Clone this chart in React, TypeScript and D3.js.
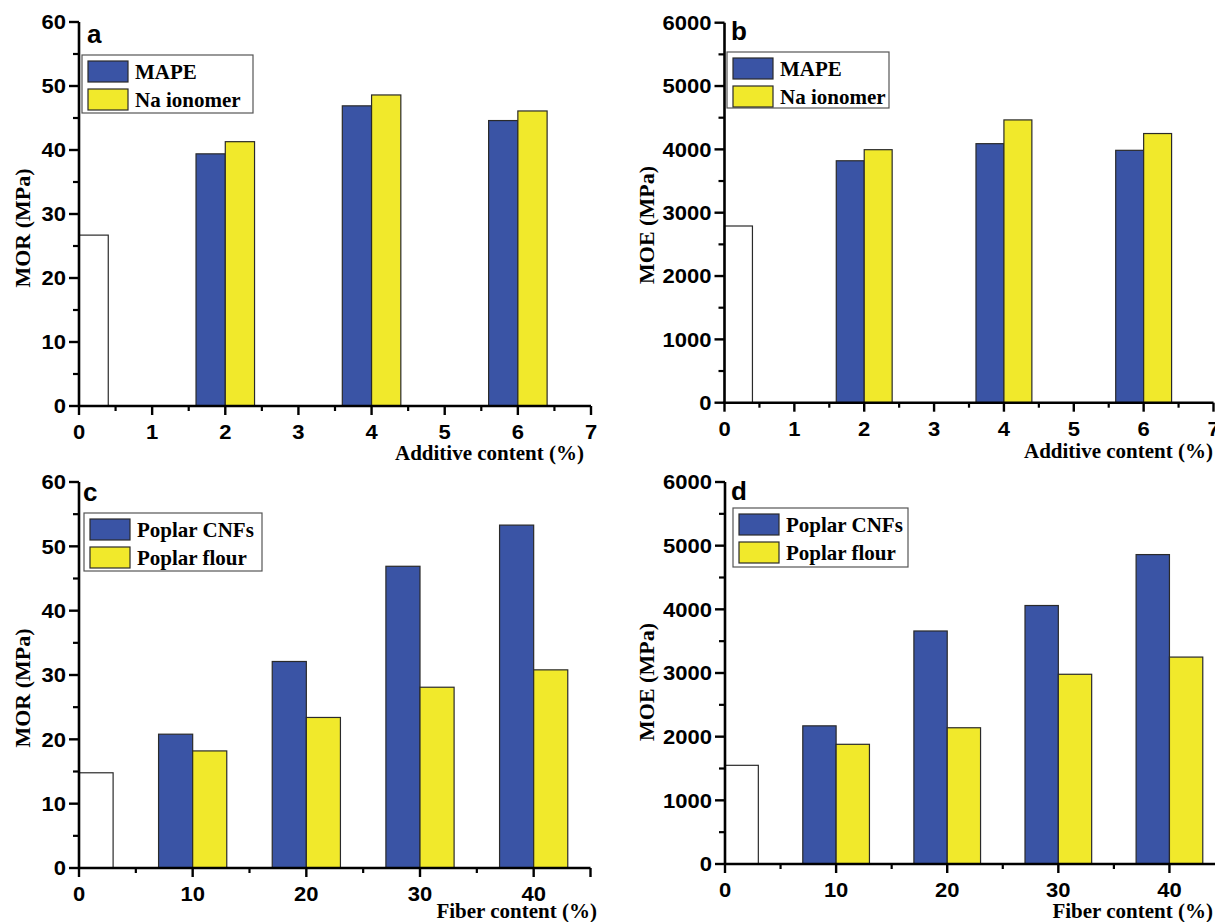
import React from "react";
import * as d3 from "d3";

// ---------- data ----------
const additiveLevels = [2, 4, 6];
const fiberLevels = [10, 20, 30, 40];

const morMAPE = [39.4, 46.9, 44.6];
const morNaIonomer = [41.3, 48.6, 46.1];
const morNeatA = 26.7;

const moeMAPE = [3820, 4090, 3985];
const moeNaIonomer = [3995, 4465, 4250];
const moeNeatB = 2790;

const morCNFs = [20.8, 32.1, 46.9, 53.3];
const morFlour = [18.2, 23.4, 28.1, 30.8];
const morNeatC = 14.8;

const moeCNFs = [2170, 3660, 4060, 4860];
const moeFlour = [1880, 2140, 2980, 3250];
const moeNeatD = 1550;

const additiveTicks = [0, 1, 2, 3, 4, 5, 6, 7];
const fiberTicks = [0, 10, 20, 30, 40];
const morTicks = [0, 10, 20, 30, 40, 50, 60];
const moeTicks = [0, 1000, 2000, 3000, 4000, 5000, 6000];

const legendAB = ["MAPE", "Na ionomer"];
const legendCD = ["Poplar CNFs", "Poplar flour"];

const BLUE = "#3a54a5";
const YELLOW = "#f1e92b";
const SANS = "'Liberation Sans', Arial, sans-serif";
const SERIF = "'Liberation Serif', 'Times New Roman', serif";

type PanelProps = {
  letter: string;
  xDomain: [number, number];
  xRange: [number, number];
  yDomain: [number, number];
  yRange: [number, number];
  xTicks: number[];
  xMinor: number[];
  xEndTick?: number;
  yTicks: number[];
  yMinor: number[];
  cats: number[];
  s1: number[];
  s2: number[];
  neat: number;
  barW: number;
  legend: string[];
  legendBox: [number, number, number, number];
  letterPos: [number, number];
  yTitle: string;
  yTitlePos: [number, number];
  xTitle: string;
  xTitlePos: [number, number];
};

function Panel(p: PanelProps) {
  const x = d3.scaleLinear().domain(p.xDomain).range(p.xRange);
  const y = d3.scaleLinear().domain(p.yDomain).range(p.yRange);
  const x0 = x(p.xDomain[0]);
  const yb = y(0);
  const bar = (xs: number, xe: number, v: number, fill: string, key: string) => (
    <rect
      key={key}
      x={x(xs)}
      y={y(v)}
      width={x(xe) - x(xs)}
      height={yb - y(v)}
      fill={fill}
      stroke="#2a2a2a"
      strokeWidth={1.2}
    />
  );
  const [lx, ly, lw, lh] = p.legendBox;
  const xEnd = x(p.xDomain[1]);
  return (
    <g>
      {/* bars */}
      {bar(0, p.barW, p.neat, "#ffffff", "neat")}
      {p.cats.map((c, i) => bar(c - p.barW, c, p.s1[i], BLUE, "s1" + i))}
      {p.cats.map((c, i) => bar(c, c + p.barW, p.s2[i], YELLOW, "s2" + i))}

      {/* y axis */}
      <line x1={x0} x2={x0} y1={yb + 1} y2={y(p.yDomain[1])} stroke="#000" strokeWidth={2.6} />
      {p.yTicks.map((t) => (
        <g key={"yt" + t}>
          <line x1={x0 - 10} x2={x0} y1={y(t)} y2={y(t)} stroke="#000" strokeWidth={2.4} />
          <text
            transform={`translate(${x0 - 13},${y(t)}) scale(1.1,1)`}
            dy="0.36em"
            textAnchor="end"
            fontFamily={SANS}
            fontWeight="bold"
            fontSize={20}
          >
            {t}
          </text>
        </g>
      ))}
      {p.yMinor.map((t) => (
        <line key={"ym" + t} x1={x0 - 6} x2={x0} y1={y(t)} y2={y(t)} stroke="#000" strokeWidth={2.2} />
      ))}

      {/* x axis */}
      <line x1={x0 - 1} x2={xEnd} y1={yb} y2={yb} stroke="#000" strokeWidth={2.6} />
      {p.xTicks.map((t) => (
        <g key={"xt" + t}>
          <line x1={x(t)} x2={x(t)} y1={yb} y2={yb + 9} stroke="#000" strokeWidth={2.4} />
          <text
            transform={`translate(${x(t)},${yb + 33}) scale(1.1,1)`}
            textAnchor="middle"
            fontFamily={SANS}
            fontWeight="bold"
            fontSize={20}
          >
            {t}
          </text>
        </g>
      ))}
      {p.xEndTick !== undefined && (
        <line x1={x(p.xEndTick)} x2={x(p.xEndTick)} y1={yb} y2={yb + 9} stroke="#000" strokeWidth={2.4} />
      )}
      {p.xMinor.map((t) => (
        <line key={"xm" + t} x1={x(t)} x2={x(t)} y1={yb} y2={yb + 5} stroke="#000" strokeWidth={2.2} />
      ))}

      {/* legend */}
      <rect x={lx} y={ly} width={lw} height={lh} fill="#fff" stroke="#555" strokeWidth={1.2} />
      <rect x={lx + 6} y={ly + 6} width={40} height={21} fill={BLUE} stroke="#2a2a2a" strokeWidth={1.2} />
      <rect x={lx + 6} y={ly + 34} width={40} height={21} fill={YELLOW} stroke="#2a2a2a" strokeWidth={1.2} />
      <text x={lx + 53} y={ly + 24} fontFamily={SERIF} fontWeight="bold" fontSize={21}>
        {p.legend[0]}
      </text>
      <text x={lx + 53} y={ly + 52} fontFamily={SERIF} fontWeight="bold" fontSize={21}>
        {p.legend[1]}
      </text>

      {/* letter */}
      <text x={p.letterPos[0]} y={p.letterPos[1]} fontFamily={SANS} fontWeight="bold" fontSize={26}>
        {p.letter}
      </text>

      {/* titles */}
      <text
        transform={`translate(${p.yTitlePos[0]},${p.yTitlePos[1]}) rotate(-90)`}
        textAnchor="middle"
        dy="0.35em"
        fontFamily={SERIF}
        fontWeight="bold"
        fontSize={22}
      >
        {p.yTitle}
      </text>
      <text
        x={p.xTitlePos[0]}
        y={p.xTitlePos[1]}
        textAnchor="end"
        fontFamily={SERIF}
        fontWeight="bold"
        fontSize={21}
      >
        {p.xTitle}
      </text>
    </g>
  );
}

export default function App() {
  const addMinor = d3.range(0.5, 7, 1);
  const fibMinor = [5, 15, 25, 35];
  const morMinor = d3.range(5, 60, 10);
  const moeMinor = d3.range(500, 6000, 1000);
  return (
    <svg
      width={1215}
      height={922}
      style={{ position: "absolute", left: 0, top: 0, background: "#fff" }}
    >
      <rect width={1215} height={922} fill="#fff" />
      <Panel
        letter="a"
        xDomain={[0, 7]}
        xRange={[79, 591]}
        yDomain={[0, 60]}
        yRange={[406, 22]}
        xTicks={additiveTicks}
        xMinor={addMinor}
        yTicks={morTicks}
        yMinor={morMinor}
        cats={additiveLevels}
        s1={morMAPE}
        s2={morNaIonomer}
        neat={morNeatA}
        barW={0.4}
        legend={legendAB}
        legendBox={[82, 55, 171, 58]}
        letterPos={[87, 43]}
        yTitle="MOR (MPa)"
        yTitlePos={[22, 228]}
        xTitle="Additive content (%)"
        xTitlePos={[584, 460]}
      />
      <Panel
        letter="b"
        xDomain={[0, 7]}
        xRange={[724.5, 1213.5]}
        yDomain={[0, 6000]}
        yRange={[402.7, 22.7]}
        xTicks={additiveTicks}
        xMinor={addMinor}
        yTicks={moeTicks}
        yMinor={moeMinor}
        cats={additiveLevels}
        s1={moeMAPE}
        s2={moeNaIonomer}
        neat={moeNeatB}
        barW={0.4}
        legend={legendAB}
        legendBox={[727, 52, 162, 56]}
        letterPos={[731, 40]}
        yTitle="MOE (MPa)"
        yTitlePos={[646, 225]}
        xTitle="Additive content (%)"
        xTitlePos={[1213, 458]}
      />
      <Panel
        letter="c"
        xDomain={[0, 45]}
        xRange={[79, 590.5]}
        yDomain={[0, 60]}
        yRange={[868, 482]}
        xTicks={fiberTicks}
        xMinor={fibMinor}
        xEndTick={45}
        yTicks={morTicks}
        yMinor={morMinor}
        cats={fiberLevels}
        s1={morCNFs}
        s2={morFlour}
        neat={morNeatC}
        barW={3}
        legend={legendCD}
        legendBox={[84, 513, 178, 58]}
        letterPos={[83, 501]}
        yTitle="MOR (MPa)"
        yTitlePos={[22, 688]}
        xTitle="Fiber content (%)"
        xTitlePos={[597, 918]}
      />
      <Panel
        letter="d"
        xDomain={[0, 45]}
        xRange={[725, 1225]}
        yDomain={[0, 6000]}
        yRange={[864, 482]}
        xTicks={fiberTicks}
        xMinor={fibMinor}
        xEndTick={45}
        yTicks={moeTicks}
        yMinor={moeMinor}
        cats={fiberLevels}
        s1={moeCNFs}
        s2={moeFlour}
        neat={moeNeatD}
        barW={3}
        legend={legendCD}
        legendBox={[733, 508, 175, 59]}
        letterPos={[731, 500]}
        yTitle="MOE (MPa)"
        yTitlePos={[646, 682]}
        xTitle="Fiber content (%)"
        xTitlePos={[1213, 918]}
      />
    </svg>
  );
}
